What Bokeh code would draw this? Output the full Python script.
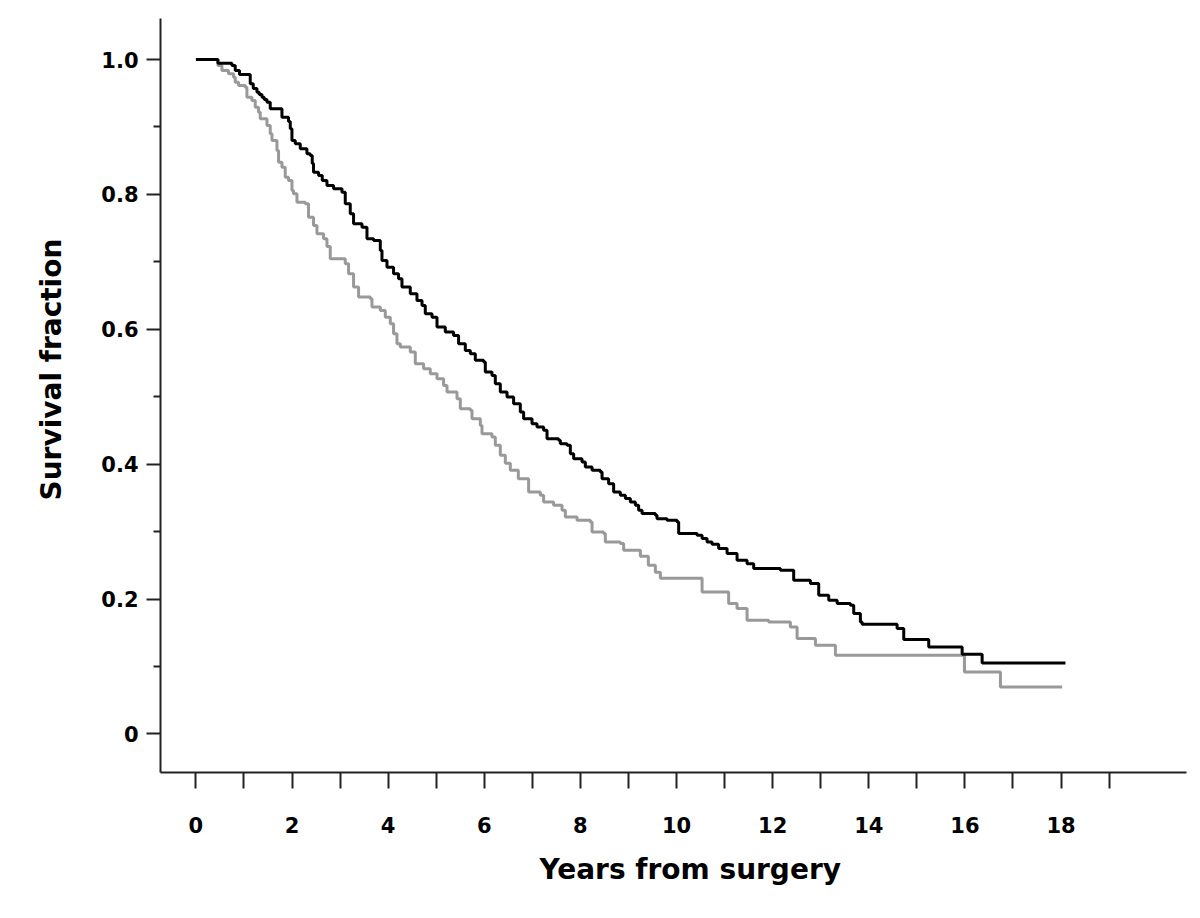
from bokeh.plotting import figure
from bokeh.models import Range1d, FixedTicker, Title
from bokeh.embed import file_html
from bokeh.resources import INLINE

# Kaplan-Meier step events: (years, survival fraction after the step)
black_years = [0, 0.458, 0.749, 0.818, 0.907, 1.130, 1.193, 1.270, 1.317, 1.374, 1.421, 1.478,
               1.546, 1.790, 1.927, 1.963, 1.998, 2.067, 2.171, 2.310, 2.379, 2.420, 2.447,
               2.552, 2.629, 2.726, 2.864, 3.039, 3.107, 3.211, 3.280, 3.455, 3.559, 3.696,
               3.836, 3.871, 3.975, 4.112, 4.216, 4.287, 4.460, 4.599, 4.704, 4.772, 4.912,
               5.016, 5.188, 5.361, 5.465, 5.605, 5.709, 5.813, 5.986, 6.021, 6.160, 6.229,
               6.333, 6.473, 6.610, 6.749, 6.818, 6.993, 7.097, 7.234, 7.305, 7.546, 7.582,
               7.721, 7.790, 7.859, 8.033, 8.102, 8.242, 8.414, 8.450, 8.587, 8.691, 8.830,
               8.935, 9.039, 9.143, 9.211, 9.282, 9.559, 9.594, 9.802, 10.011, 10.044, 10.427,
               10.531, 10.635, 10.739, 10.876, 11.051, 11.259, 11.467, 11.605, 12.160, 12.437,
               12.785, 12.958, 13.166, 13.341, 13.617, 13.686, 13.825, 13.861, 14.589, 14.727,
               15.247, 15.942, 16.358, 18.092]
black_surv = [1.0, 0.9945, 0.9911, 0.9837, 0.9777, 0.9640, 0.9570, 0.9515, 0.9481, 0.9441, 0.9407,
              0.9367, 0.9269, 0.9145, 0.9081, 0.8973, 0.8799, 0.8750, 0.8676, 0.8602, 0.8577,
              0.8458, 0.8329, 0.8280, 0.8206, 0.8132, 0.8083, 0.8033, 0.7861, 0.7713, 0.7565,
              0.7514, 0.7342, 0.7317, 0.7169, 0.7021, 0.6921, 0.6824, 0.6750, 0.6625, 0.6527,
              0.6428, 0.6354, 0.6231, 0.6180, 0.6032, 0.5958, 0.5909, 0.5786, 0.5687, 0.5638,
              0.5539, 0.5513, 0.5365, 0.5316, 0.5193, 0.5069, 0.4995, 0.4897, 0.4772, 0.4675,
              0.4600, 0.4550, 0.4501, 0.4378, 0.4353, 0.4304, 0.4279, 0.4156, 0.4082, 0.4031,
              0.3957, 0.3908, 0.3883, 0.3785, 0.3711, 0.3587, 0.3538, 0.3489, 0.3438, 0.3390,
              0.3315, 0.3267, 0.3241, 0.3192, 0.3167, 0.3142, 0.2970, 0.2945, 0.2896, 0.2846,
              0.2812, 0.2748, 0.2674, 0.2574, 0.2525, 0.2451, 0.2426, 0.2278, 0.2229, 0.2056,
              0.1982, 0.1933, 0.1907, 0.1784, 0.1660, 0.1626, 0.1562, 0.1399, 0.1289, 0.1181,
              0.1052, 0.1052]

gray_years = [0, 0.458, 0.541, 0.678, 0.783, 0.818, 0.887, 1.026, 1.061, 1.165, 1.234, 1.303,
              1.338, 1.478, 1.546, 1.582, 1.686, 1.719, 1.790, 1.858, 1.927, 1.998, 2.031,
              2.102, 2.275, 2.343, 2.447, 2.518, 2.656, 2.726, 2.795, 3.107, 3.176, 3.280,
              3.384, 3.628, 3.663, 3.836, 3.940, 4.044, 4.112, 4.183, 4.252, 4.460, 4.564,
              4.737, 4.876, 5.016, 5.153, 5.224, 5.432, 5.501, 5.709, 5.744, 5.917, 5.952,
              6.160, 6.229, 6.333, 6.437, 6.541, 6.708, 6.922, 7.166, 7.234, 7.442, 7.617,
              7.686, 7.929, 8.206, 8.242, 8.483, 8.518, 8.830, 8.899, 9.247, 9.413, 9.559,
              9.663, 10.531, 11.084, 11.259, 11.467, 11.917, 12.368, 12.508, 12.889, 13.305,
              15.990, 16.739, 18.023]
gray_surv = [1.0, 0.9911, 0.9837, 0.9788, 0.9737, 0.9663, 0.9614, 0.9589, 0.9441, 0.9392, 0.9293,
             0.9219, 0.9121, 0.9022, 0.8899, 0.8799, 0.8651, 0.8478, 0.8404, 0.8255, 0.8206,
             0.8058, 0.8009, 0.7885, 0.7861, 0.7662, 0.7539, 0.7416, 0.7342, 0.7228, 0.7046,
             0.6972, 0.6824, 0.6625, 0.6477, 0.6453, 0.6329, 0.6280, 0.6180, 0.6083, 0.5934,
             0.5786, 0.5736, 0.5662, 0.5490, 0.5416, 0.5342, 0.5267, 0.5168, 0.5069, 0.4971,
             0.4823, 0.4798, 0.4675, 0.4575, 0.4452, 0.4402, 0.4279, 0.4131, 0.4012, 0.3908,
             0.3785, 0.3587, 0.3538, 0.3438, 0.3390, 0.3315, 0.3216, 0.3167, 0.3142, 0.2994,
             0.2970, 0.2846, 0.2822, 0.2723, 0.2634, 0.2500, 0.2397, 0.2308, 0.2105, 0.1933,
             0.1859, 0.1685, 0.1660, 0.1586, 0.1414, 0.1315, 0.1166, 0.0919, 0.0697, 0.0697]

x_major_ticks = [0, 2, 4, 6, 8, 10, 12, 14, 16, 18]
x_minor_ticks = [1, 3, 5, 7, 9, 11, 13, 15, 17, 19]
y_major_ticks = [0, 0.2, 0.4, 0.6, 0.8, 1.0]
y_minor_ticks = [0.1, 0.3, 0.5, 0.7, 0.9]
y_tick_labels = {0: "0", 0.2: "0.2", 0.4: "0.4", 0.6: "0.6", 0.8: "0.8", 1.0: "1.0"}
x_title = "Years from surgery"
y_title = "Survival fraction"

FONT = "DejaVu Sans"

p = figure(width=1192, height=902, output_backend="svg", toolbar_location=None,
           x_range=Range1d(-0.737, 20.61), y_range=Range1d(-0.0572, 1.0608))
p.min_border_left = 160
p.min_border_right = 6
p.min_border_top = 18
p.min_border_bottom = 130
p.outline_line_color = None
p.xgrid.visible = False
p.ygrid.visible = False
p.background_fill_color = "white"
p.border_fill_color = "white"

p.step(gray_years, gray_surv, mode="after", line_color="#999999", line_width=3)
p.step(black_years, black_surv, mode="after", line_color="#000000", line_width=3)

xa = p.xaxis[0]
xa.ticker = FixedTicker(ticks=x_major_ticks, minor_ticks=x_minor_ticks)
ya = p.yaxis[0]
ya.ticker = FixedTicker(ticks=y_major_ticks, minor_ticks=y_minor_ticks)
ya.major_label_overrides = y_tick_labels

for ax in (xa, ya):
    ax.axis_line_color = "#222222"
    ax.axis_line_width = 2
    ax.major_tick_line_color = "#222222"
    ax.major_tick_line_width = 2
    ax.minor_tick_line_color = "#222222"
    ax.minor_tick_line_width = 2
    ax.major_tick_in = 0
    ax.minor_tick_in = 0
    ax.major_label_text_font = FONT
    ax.major_label_text_font_style = "bold"
    ax.major_label_text_font_size = "21px"
    ax.major_label_text_color = "black"

xa.major_tick_out = 16
xa.minor_tick_out = 16
xa.major_label_standoff = 28

ya.major_tick_out = 14
ya.minor_tick_out = 7
ya.major_label_standoff = 8

# axis titles as side titles, so they can sit slightly off-centre as in the reference
p.add_layout(Title(text=x_title, align="left", offset=379, standoff=31,
                   text_font=FONT, text_font_style="bold", text_font_size="28px",
                   text_color="black"), "below")
p.add_layout(Title(text=y_title, align="left", offset=272, standoff=62,
                   text_font=FONT, text_font_style="bold", text_font_size="28px",
                   text_color="black"), "left")

open("out.html", "w").write(file_html(p, INLINE))
